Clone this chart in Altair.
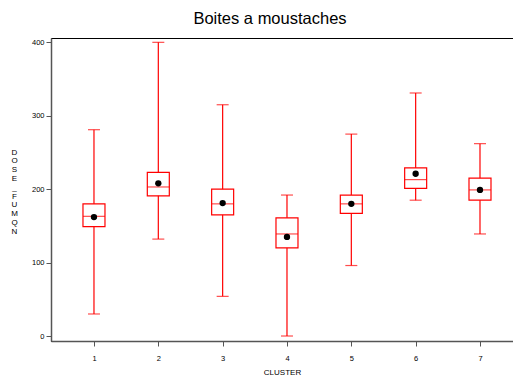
import altair as alt
import pandas as pd

cluster = [1, 2, 3, 4, 5, 6, 7]
whisker_low = [30, 132, 54, 0, 96, 185, 139]
q1 = [149, 191, 165, 120, 167, 201, 185]
median = [163, 203, 180, 139, 180, 213, 199]
q3 = [180, 223, 200, 161, 192, 229, 215]
whisker_high = [281, 400, 315, 192, 275, 331, 262]
mean = [162, 208, 181, 135, 180, 221, 199]

df = pd.DataFrame({
    "cluster": cluster, "lo": whisker_low, "q1": q1, "med": median,
    "q3": q3, "hi": whisker_high, "mean": mean,
})

xs = alt.Scale(domain=[0.332, 7.513], nice=False, zero=False, padding=0)
ys = alt.Scale(domain=[-6.8, 405.9], nice=False, zero=False, padding=0)

xax = alt.Axis(values=cluster, title="CLUSTER", grid=False, labelFontSize=7.5,
               titleFontSize=8, titleFontWeight="normal", labelPadding=8,
               titlePadding=7, tickSize=5, domainColor="#555", tickColor="#555",
               domainWidth=1.5, labelColor="black", titleColor="black",
               labelFont="Liberation Sans", titleFont="Liberation Sans")
yax = alt.Axis(values=[0, 100, 200, 300, 400],
               title=["D", "O", "S", "E", "_", "F", "U", "M", "Q", "N"],
               titleAngle=0, titleLineHeight=8.8, titleFontSize=8,
               titleFontWeight="normal", titleAlign="center", titleBaseline="middle",
               titleX=-37, titleY=114, grid=False, labelFontSize=7.5, tickSize=5,
               labelPadding=2, domainColor="#555", tickColor="#555", domainWidth=1.5,
               labelColor="black", titleColor="black",
               labelFont="Liberation Sans", titleFont="Liberation Sans")

base = alt.Chart(df)
x = alt.X("cluster:Q", scale=xs, axis=xax)

whisk = base.mark_rule(color="red", strokeWidth=1.2).encode(
    x=x, y=alt.Y("lo:Q", scale=ys, axis=yax), y2="hi:Q")
caps_lo = base.mark_tick(color="red", size=12, thickness=1.2, orient="horizontal").encode(
    x=x, y=alt.Y("lo:Q", scale=ys))
caps_hi = base.mark_tick(color="red", size=12, thickness=1.2, orient="horizontal").encode(
    x=x, y=alt.Y("hi:Q", scale=ys))
box = base.mark_bar(size=22, fill="white", stroke="red", strokeWidth=1.2).encode(
    x=x, y=alt.Y("q1:Q", scale=ys), y2="q3:Q")
med = base.mark_tick(color="red", size=22, thickness=1.2, orient="horizontal").encode(
    x=x, y=alt.Y("med:Q", scale=ys))
pts = base.mark_point(filled=True, color="black", size=40, opacity=1).encode(
    x=x, y=alt.Y("mean:Q", scale=ys))

chart = alt.layer(whisk, caps_lo, caps_hi, box, med, pts).properties(
    width=462, height=303,
    padding={"left": 43, "top": 30, "right": 0, "bottom": 40},
    autosize=alt.AutoSizeParams(type="none"),
    title=alt.TitleParams("Boites a moustaches", fontSize=16.5, fontWeight="normal",
                          font="Liberation Sans", color="black", offset=11, dx=-12),
).configure_view(stroke="black", strokeWidth=1)

chart.save("out.html", embed_options={"renderer": "svg", "actions": False})
